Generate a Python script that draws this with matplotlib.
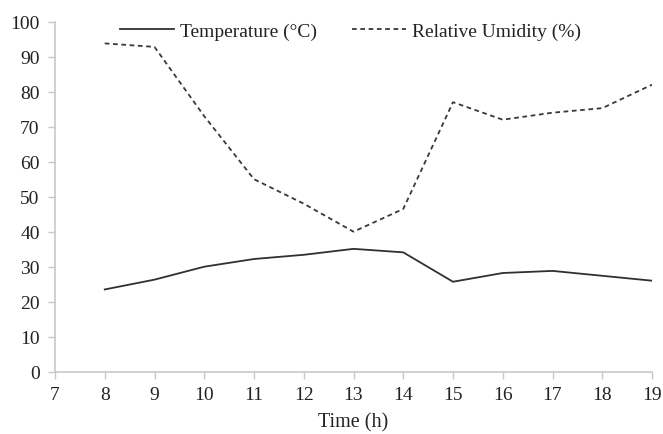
import matplotlib
matplotlib.use("Agg")
import matplotlib.pyplot as plt

hours = [8, 9, 10, 11, 12, 13, 14, 15, 16, 17, 18, 19]
temperature = [23.5, 26.3, 30.0, 32.2, 33.4, 35.1, 34.1, 25.7, 28.2, 28.8, 27.4, 26.0]
humidity = [93.8, 92.8, 73.0, 55.0, 48.0, 40.0, 46.5, 77.0, 72.0, 74.0, 75.3, 82.0]
xticks = list(range(7, 20))
yticks = list(range(0, 101, 10))

plt.rcParams['font.family'] = ['Liberation Serif', 'DejaVu Serif']

W, H = 663, 435
fig = plt.figure(figsize=(W / 100, H / 100), dpi=100)
left, right, top, bottom = 55, 652, 22.7, 372.7
ax = fig.add_axes([left / W, 1 - bottom / H, (right - left) / W, (bottom - top) / H])

ax.plot(hours, temperature, color='#303030', lw=1.3, label='Temperature (°C)')
ax.plot(hours, humidity, color='#383838', lw=1.3, linestyle=(0, (2.6, 2.0)),
        label='Relative Umidity (%)')

ax.set_xlim(7, 19)
ax.set_ylim(0, 100)
ax.set_xticks(xticks)
ax.set_yticks(yticks)
ax.tick_params(axis='both', labelsize=14, color='#C8C8C8', length=5, width=1,
               direction='out', labelcolor='#222222')
ax.tick_params(axis='y', pad=6)
ax.tick_params(axis='x', pad=5)
for s in ['top', 'right']:
    ax.spines[s].set_visible(False)
for s in ['left', 'bottom']:
    ax.spines[s].set_color('#C8C8C8')
    ax.spines[s].set_linewidth(1.2)

ax.set_xlabel('Time (h)', fontsize=14.5, labelpad=7, color='#222222')

leg = fig.legend(loc='center', bbox_to_anchor=(350.5 / W, 1 - 31.7 / H), ncol=2,
                 frameon=False, fontsize=14, handlelength=2.8, handletextpad=0.3,
                 columnspacing=1.8, borderpad=0, borderaxespad=0)
for t in leg.get_texts():
    t.set_color('#222222')

fig.savefig('out.png', dpi=100)
